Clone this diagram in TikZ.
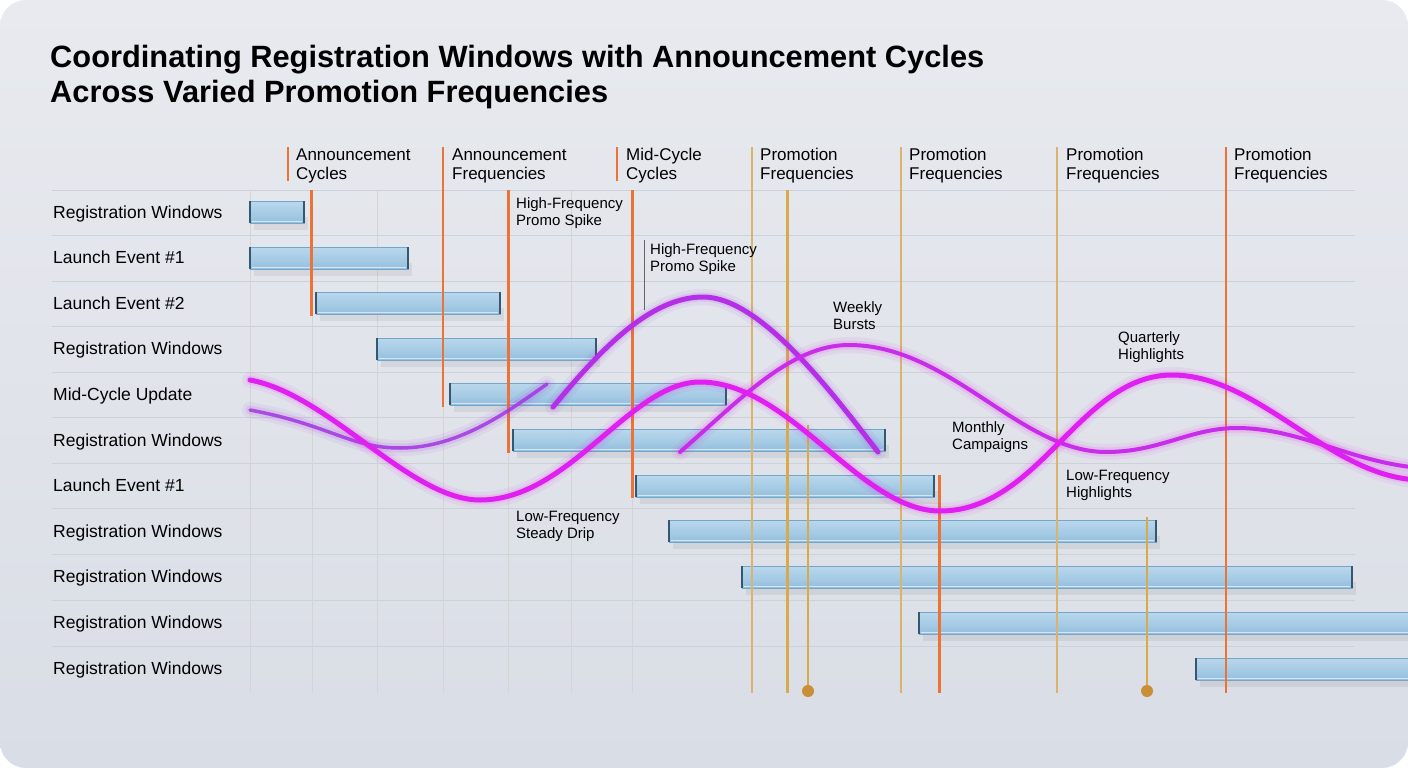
\documentclass[tikz,border=0pt]{standalone}
\usepackage{fontspec}
\setmainfont{Liberation Sans}
\usetikzlibrary{positioning}

\definecolor{bgtop}{HTML}{E8EAEF}
\definecolor{bgbot}{HTML}{D9DDE5}
\definecolor{gridc}{HTML}{CDD1D8}
\definecolor{vgrid}{HTML}{D6D4D2}
\definecolor{annorange}{HTML}{EA7335}
\definecolor{promogold}{HTML}{D9AA4A}
\definecolor{palegold}{HTML}{D8B56C}
\definecolor{dotgold}{HTML}{C98F38}
\definecolor{barhi}{HTML}{B6D7ED}
\definecolor{barlo}{HTML}{8EBDDF}
\definecolor{baredge}{HTML}{74A5CA}
\definecolor{barcap}{HTML}{35576F}
\definecolor{wavemag}{HTML}{E020F0}
\definecolor{wavevio}{HTML}{A235E2}
\definecolor{wavemid}{HTML}{C82DEA}

\def\lowwave{(250,380) .. controls (330,395) and (410,500) .. (480,500)
  .. controls (570,500) and (630,382) .. (700,382)
  .. controls (790,382) and (860,511) .. (940,511)
  .. controls (1040,511) and (1080,375) .. (1172,375)
  .. controls (1260,375) and (1330,478) .. (1420,480)}
\def\dripwave{(250,410) .. controls (330,425) and (350,448) .. (400,448)
  .. controls (460,448) and (510,410) .. (547,384)}
\def\spikewave{(553,407) .. controls (600,350) and (650,297) .. (703,297)
  .. controls (760,297) and (830,390) .. (878,452)}
\def\monthwave{(680,452) .. controls (740,400) and (790,345) .. (849,345)
  .. controls (950,345) and (1020,452) .. (1106,452)
  .. controls (1160,452) and (1190,428) .. (1237,428)
  .. controls (1300,428) and (1350,462) .. (1420,468)}

% one registration bar: x from, x to, row centre
\def\winbar#1#2#3{%
  \fill[black,opacity=.06] (#1+4,#3+5) rectangle (#2+4,#3+18);
  \shade[top color=barhi,bottom color=barlo,opacity=.9] (#1,#3-11) rectangle (#2,#3+11);
  \draw[baredge,line width=.9] (#1,#3-11) rectangle (#2,#3+11);
  \draw[white,opacity=.6] (#1+2,#3+9) -- (#2-2,#3+9);
  \draw[barcap,line width=1.6] (#1,#3-11) -- (#1,#3+11) (#2,#3-11) -- (#2,#3+11);
}

\begin{document}
\begin{tikzpicture}[x=1pt,y=-1pt,
  rowlab/.style={anchor=base west,inner sep=0pt,font=\fontsize{17.5}{20}\selectfont},
  headlab/.style={anchor=base west,inner sep=0pt,align=left,font=\fontsize{17}{19}\selectfont},
  annlab/.style={anchor=base west,inner sep=0pt,align=left,font=\fontsize{15}{16.5}\selectfont},
  glow/.style={line width=16pt,opacity=.07,line cap=round},
  softglow/.style={line width=9pt,opacity=.12,line cap=round},
  wave/.style={line width=5pt,line cap=round}]
\useasboundingbox (0,0) rectangle (1408,768);
\fill[white] (0,0) rectangle (1408,768);
\shade[top color=bgtop,bottom color=bgbot,rounded corners=26pt] (0,0) rectangle (1408,768);

% title
\node[anchor=base west,inner sep=0pt,align=left,font=\fontsize{30.8}{35}\selectfont\bfseries] (title) at (50,102)
  {Coordinating Registration Windows with Announcement Cycles\\Across Varied Promotion Frequencies};

% grid
\foreach \y in {190,235,281,326,372,417,463,508,554,600,646}
  \draw[gridc] (52,\y) -- (1355,\y);
\foreach \x in {250,312,377,443,508,571,632}
  \draw[vgrid] (\x,190) -- (\x,693);

% row labels
\foreach \t [count=\i] in {Registration Windows,Launch Event \#1,Launch Event \#2,Registration Windows,Mid-Cycle Update,Registration Windows,Launch Event \#1,Registration Windows,Registration Windows,Registration Windows,Registration Windows}
  \node[rowlab] (row\i) at (53,{212+45.6*(\i-1)+6}) {\t};

% registration bars
\winbar{250}{304}{212}
\winbar{250}{408}{258}
\winbar{316}{500}{303}
\winbar{377}{596}{349}
\winbar{450}{726}{394}
\winbar{513}{885}{440}
\winbar{636}{934}{486}
\winbar{669}{1156}{531}
\winbar{742}{1352}{577}
\winbar{919}{1430}{623}
\winbar{1196}{1430}{669}

% announcement and promotion markers
\foreach \x/\a/\b/\w in {288/147/181/2.5,311/190/316/3,443/147/407/2.5,508/190/453/3,617/147/181/2.5,632/190/498/3,939/475/693/3,1226/147/693/1.2}
  \draw[annorange,line width=\w pt] (\x,\a) -- (\x,\b);
\foreach \x in {752,901,1057}
  \draw[palegold,line width=1.3pt] (\x,147) -- (\x,693);
\foreach \x/\a/\b/\w in {787/190/693/3,808/425/691/2,1147/517/691/2}
  \draw[promogold,line width=\w pt] (\x,\a) -- (\x,\b);
\fill[dotgold] (808,691) circle[radius=6pt] (1147,691) circle[radius=6pt];
\draw[gray!80!black,line width=.8pt] (644,240) -- (644,310);

% frequency waves
\draw[glow,wavevio] \dripwave;
\draw[softglow,wavevio] \dripwave;
\draw[wavevio,line width=3.5pt,opacity=.85,line cap=round] \dripwave;
\draw[glow,wavevio] \spikewave;
\draw[softglow,wavevio] \spikewave;
\draw[wave,wavevio!70!wavemag] \spikewave;
\draw[glow,wavemag] \monthwave;
\draw[softglow,wavemag] \monthwave;
\draw[wavemid,line width=4pt,line cap=round] \monthwave;
\draw[glow,wavemag] \lowwave;
\draw[softglow,wavemag] \lowwave;
\draw[wave,wavemag] \lowwave;

% column heads
\node[headlab] (head1) at (296,179) {Announcement\\Cycles};
\node[headlab] (head2) at (452,179) {Announcement\\Frequencies};
\node[headlab] (head3) at (626,179) {Mid-Cycle\\Cycles};
\node[headlab] (head4) at (760,179) {Promotion\\Frequencies};
\node[headlab] (head5) at (909,179) {Promotion\\Frequencies};
\node[headlab] (head6) at (1066,179) {Promotion\\Frequencies};
\node[headlab] (head7) at (1234,179) {Promotion\\Frequencies};

% wave notes
\node[annlab] (spike1) at (516,225) {High-Frequency\\Promo Spike};
\node[annlab] (spike2) at (650,271) {High-Frequency\\Promo Spike};
\node[annlab] (weekly) at (833,329) {Weekly\\Bursts};
\node[annlab] (quarter) at (1118,359) {Quarterly\\Highlights};
\node[annlab] (monthly) at (952,449) {Monthly\\Campaigns};
\node[annlab] (lowhigh) at (1066,497) {Low-Frequency\\Highlights};
\node[annlab] (drip) at (516,538) {Low-Frequency\\Steady Drip};
\end{tikzpicture}
\end{document}
